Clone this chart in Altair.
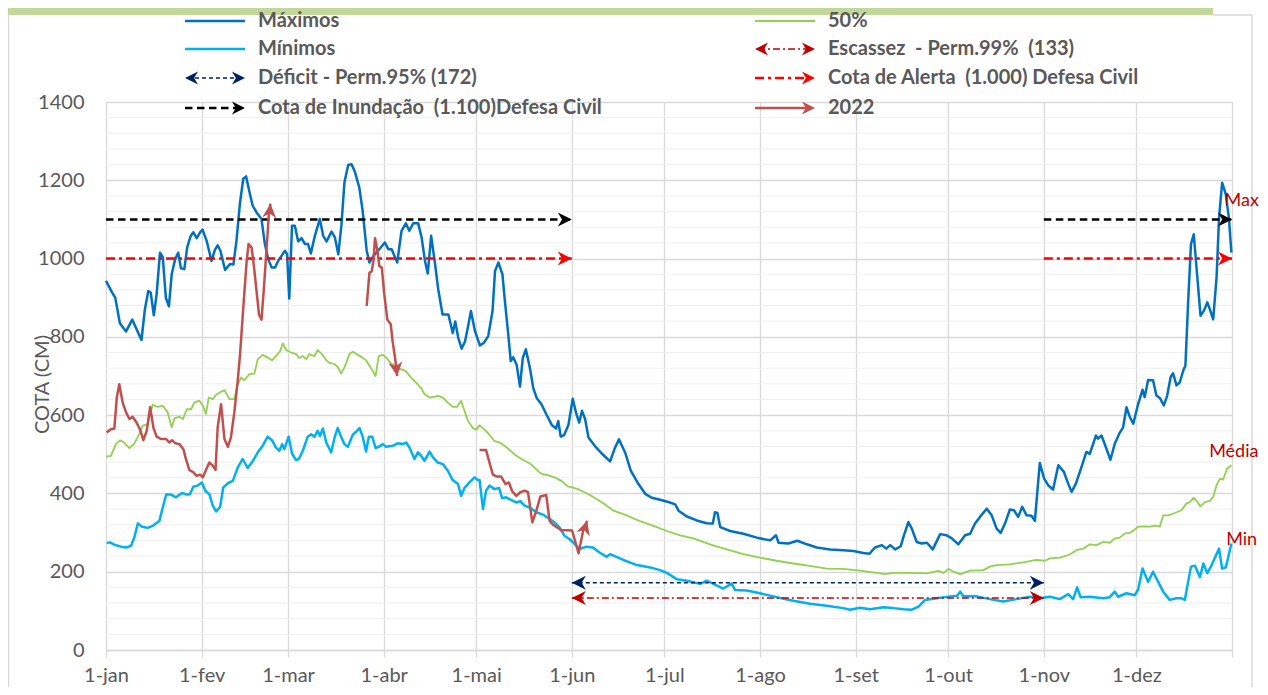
import math
import altair as alt
import pandas as pd

# ---------------- data ----------------
month_ticks = [0, 31, 59, 90, 120, 151, 181, 212, 243, 273, 304, 334, 365]
month_labels = ["1-jan", "1-fev", "1-mar", "1-abr", "1-mai", "1-jun", "1-jul",
                "1-ago", "1-set", "1-out", "1-nov", "1-dez", ""]
y_ticks = [0, 200, 400, 600, 800, 1000, 1200, 1400]

# (day of year, cota cm)
maximos = [
    (0, 943), (2, 913), (3, 900), (4.5, 835), (6.5, 814), (8.5, 844), (11.5, 792), (12.6, 870),
    (13.7, 917), (14.5, 913), (15.5, 855), (16.4, 908), (17.5, 1015), (18.4, 1004), (19.4, 900),
    (20.4, 878), (21.3, 960), (22.4, 998), (23.4, 1015), (24.3, 975), (25.4, 973), (26.3, 1028),
    (27.4, 1057), (28.3, 1067), (29.4, 1052), (30.5, 1067), (31.3, 1074), (32.6, 1046), (34.2, 994),
    (35.3, 1022), (36.2, 1034), (37.1, 1020), (38.6, 971), (40.2, 986), (41.3, 985), (42.3, 1046),
    (43.4, 1140), (44.5, 1204), (45.4, 1210), (46.4, 1174), (47.5, 1136), (48.8, 1118), (50.4, 1101),
    (51.5, 1037), (52.6, 998), (53.7, 977), (54.8, 977), (55.8, 994), (56.9, 1007), (58, 1020),
    (58.7, 1011), (59.4, 898), (60.3, 1084), (61.2, 1084), (62.3, 1044), (63.4, 1052), (64.5, 1037),
    (65.5, 1037), (66.4, 1013), (67.7, 1058), (69.3, 1101), (70.4, 1058), (71.5, 1044), (73.1, 1069),
    (74.2, 1054), (75.3, 1011), (76.3, 1084), (77.3, 1195), (78.5, 1239), (79.6, 1241), (80.7, 1221),
    (82.1, 1182), (83.2, 1122), (84.5, 1020), (85.4, 990), (86.7, 1007), (88.6, 1024), (90.4, 1041),
    (91.5, 1024), (92.6, 1024), (93.7, 1003), (94.4, 990), (95.8, 1071), (97.2, 1090), (98.3, 1071),
    (99.6, 1090), (101.2, 1090), (102.3, 1054), (103.4, 994), (104.3, 962), (105.4, 1058),
    (106.6, 990), (107.7, 921), (109.1, 857), (111, 857), (112.4, 810), (113.2, 839), (114.2, 797),
    (115.3, 770), (116.4, 789), (117.5, 832), (118.3, 866), (119.6, 815), (121.2, 778), (122.5, 785),
    (123.9, 802), (125.3, 866), (126.1, 968), (127.2, 990), (128.5, 960), (129.3, 892), (130.4, 806),
    (131.2, 738), (132, 748), (133.1, 729), (134.2, 673), (135.1, 746), (136.1, 768), (137.4, 721),
    (138.5, 669), (139.6, 644), (141.2, 627), (142.8, 601), (144.5, 575), (145.9, 566), (146.6, 585),
    (147.4, 545), (148.5, 549), (149.9, 575), (151.3, 642), (152.4, 605), (153.4, 581), (154.3, 611),
    (155.3, 590), (156.4, 543), (158.5, 521), (160.7, 502), (163.4, 482), (165, 517), (166.3, 538),
    (168.3, 504), (170.1, 458), (172.6, 424), (174.8, 399), (176.9, 389), (179.6, 384), (182.3, 378),
    (184.5, 372), (185.6, 356), (188.3, 341), (191.5, 331), (194.7, 324), (196.7, 323), (197.4, 352),
    (198.2, 350), (199.1, 314), (202.3, 304), (206.6, 297), (211, 287), (215.3, 280), (217.2, 293),
    (218, 274), (221.2, 272), (224.1, 279), (227.2, 270), (230.4, 262), (234.7, 257), (239, 255),
    (242.3, 253), (245.5, 248), (247.5, 246), (249.3, 262), (251.5, 268), (252.9, 259), (254.2, 268),
    (255.8, 257), (257.6, 265), (258.5, 289), (260.1, 327), (261.2, 310), (262.8, 276), (264.4, 272),
    (266.1, 274), (268, 257), (270.4, 296), (272.5, 293), (274.2, 285), (276.3, 270), (278.5, 293),
    (280.1, 297), (281.7, 323), (283.3, 340), (285.5, 361), (287.1, 344), (288.7, 310), (290, 299),
    (291.4, 323), (293, 359), (294.3, 357), (295.7, 340), (297, 366), (298.4, 344), (300, 343),
    (301.1, 330), (302.7, 478), (304.1, 438), (305.4, 421), (307, 410), (308.7, 472), (310.5, 455),
    (311.9, 425), (313, 404), (314.4, 425), (316.2, 467), (317.8, 506), (318.9, 501), (320.9, 548),
    (321.6, 540), (322.7, 548), (324.3, 514), (325.6, 486), (327, 527), (328.4, 552), (329.7, 569),
    (330.8, 620), (331.9, 595), (333, 578), (334.6, 629), (336, 665), (336.7, 646), (337.8, 690),
    (339.4, 689), (340.5, 650), (341.6, 644), (342.9, 625), (344, 650), (345.1, 697), (345.9, 707),
    (347, 676), (348.1, 684), (349.2, 714), (349.9, 727), (350.8, 892), (351.7, 1037), (352.6, 1062),
    (353.5, 977), (354.8, 854), (355.9, 867), (357, 888), (357.8, 871), (358.9, 845), (360, 952),
    (360.8, 1104), (361.8, 1194), (363, 1164), (364, 1104), (364.8, 1015),
]

mediana_50 = [
    (0, 494), (1.6, 496), (3.2, 526), (4.6, 536), (5.9, 530), (7.6, 516), (9.2, 528), (10.8, 552),
    (11.9, 573), (13.5, 577), (15.1, 626), (16.8, 621), (18.4, 624), (20, 607), (21.3, 569),
    (22.2, 592), (23.8, 596), (24.9, 590), (26.2, 615), (27.6, 615), (28.6, 632), (30.3, 637),
    (31.4, 624), (32.4, 603), (33.3, 645), (34.6, 641), (35.7, 652), (37.3, 660), (38.4, 664),
    (40, 641), (41.6, 641), (42.7, 679), (43.8, 696), (44.9, 689), (46.5, 705), (48.1, 706),
    (49.2, 743), (50.8, 754), (52.4, 747), (53.8, 740), (55.1, 751), (56.4, 763), (57.3, 783),
    (58.4, 766), (60, 760), (61.6, 756), (62.7, 746), (63.8, 751), (64.9, 743), (65.9, 756),
    (67.6, 751), (68.6, 766), (70, 756), (71.4, 740), (72.4, 734), (74.1, 730), (75.1, 723),
    (76.2, 706), (77.3, 722), (78.9, 756), (80, 762), (81.6, 754), (83.2, 747), (84.3, 740),
    (85.4, 726), (86.3, 715), (87.4, 700), (88.4, 751), (89.7, 754), (91, 746), (92.4, 732),
    (94.1, 723), (95.7, 717), (97.1, 713), (98.9, 696), (100.5, 683), (102.2, 669), (103.2, 654),
    (104.9, 645), (106.5, 647), (107.6, 649), (109.2, 645), (110.8, 632), (112.4, 621), (113.7, 621),
    (115.1, 637), (116.2, 611), (117.3, 586), (118.9, 567), (120, 563), (121.1, 574), (122.7, 563),
    (124.3, 550), (125.9, 534), (127.6, 530), (129.2, 522), (130.8, 511), (133, 496), (135.1, 486),
    (137.3, 477), (138.9, 466), (140.5, 454), (141.6, 449), (143.2, 447), (145.4, 441), (147.6, 432),
    (149.7, 418), (151.4, 415), (153, 411), (155.1, 403), (157.3, 394), (161.2, 375), (164.5, 356),
    (168.8, 344), (173.1, 329), (177.5, 317), (181.8, 304), (186.1, 293), (190.4, 285), (195.8, 270),
    (201.2, 257), (206.6, 245), (212, 236), (217.4, 228), (222.8, 221), (228.2, 215), (233.6, 208),
    (239, 207), (244.4, 203), (249.8, 197), (252.5, 194), (255.2, 197), (260.7, 197), (266.1, 196),
    (269.8, 202), (271.5, 197), (273.1, 207), (274.7, 200), (276.9, 194), (280.1, 203), (284.4, 204),
    (286.5, 213), (288.7, 217), (293, 219), (297.3, 224), (301.6, 230), (304.3, 228), (306, 234),
    (309.2, 236), (312.4, 244), (314.6, 255), (316.8, 259), (318.9, 270), (321.1, 268), (323.2, 276),
    (325.4, 274), (327, 285), (328.6, 287), (330.3, 298), (331.9, 299), (334.6, 315), (336.7, 316),
    (338.4, 315), (340, 318), (341.6, 315), (342.7, 344), (344.3, 344), (346.5, 350), (348.6, 357),
    (350.2, 374), (351.3, 378), (352.6, 389), (353.5, 381), (354.8, 367), (356.2, 378), (357.8, 381),
    (358.9, 391), (360, 421), (361.1, 438), (362.1, 435), (363.4, 463), (364.8, 472),
]

minimos = [
    (0.2, 273), (1.3, 275), (2.7, 269), (4.9, 264), (6.5, 262), (8.1, 266), (9.2, 288), (10.3, 323),
    (11.7, 315), (13.5, 312), (15.1, 317), (17.3, 330), (18.4, 364), (19.5, 397), (21.1, 397),
    (22.7, 390), (24.6, 401), (26.2, 397), (27.2, 398), (28.3, 417), (29.7, 420), (31.1, 428),
    (32.2, 407), (33.5, 398), (34.6, 369), (35.7, 354), (37, 366), (38, 415), (39.5, 426), (41.1, 432),
    (42.7, 466), (44.3, 488), (45.9, 465), (47.6, 483), (49.2, 505), (50.8, 522), (52.4, 545),
    (53.8, 536), (55.1, 517), (56.2, 509), (57.1, 526), (57.8, 513), (59.2, 545), (60.3, 502),
    (61.6, 485), (62.5, 488), (63.8, 509), (65.4, 545), (66.5, 551), (67.6, 545), (68.6, 560),
    (69.4, 547), (70.3, 566), (71.4, 530), (73, 505), (74.1, 543), (75.1, 567), (76.2, 545),
    (77.3, 526), (78.4, 519), (80, 550), (81.1, 558), (82.2, 567), (83.2, 545), (84.3, 507),
    (85.2, 545), (86.3, 545), (87.4, 516), (88.4, 519), (89.7, 526), (90.8, 519), (93, 522),
    (94.6, 528), (96.2, 526), (97.3, 530), (98.4, 517), (100, 488), (101.1, 505), (102.2, 496),
    (103.2, 483), (104.9, 507), (106, 492), (107.6, 479), (109.2, 475), (110.8, 458), (112.4, 434),
    (114.1, 424), (115.1, 394), (116.2, 414), (117.8, 428), (119.5, 441), (120.5, 434), (121.1, 434),
    (122.2, 360), (123.2, 407), (124.3, 420), (125.9, 411), (127.4, 414), (128.4, 388), (129.7, 390),
    (131.4, 383), (133, 377), (134.3, 380), (135.7, 369), (137.3, 364), (139.5, 352), (141.6, 346),
    (143.8, 335), (145.4, 326), (147, 313), (148.6, 292), (150.3, 283), (151.9, 271), (153.5, 258),
    (155.7, 264), (157.8, 262), (160, 249), (162.3, 238), (163.4, 245), (167.7, 230), (172.1, 217),
    (176.4, 211), (179.6, 204), (181.8, 197), (185, 181), (188.3, 177), (192.6, 169), (194.7, 177),
    (196.9, 169), (200.1, 157), (202.8, 170), (203.9, 153), (207.7, 152), (212, 145), (217.4, 135),
    (222.8, 126), (228.2, 118), (233.6, 113), (239, 107), (241.2, 103), (244.4, 108), (247.7, 104),
    (252, 109), (255.2, 107), (258.5, 104), (261.2, 103), (263.4, 111), (265.5, 128), (269.3, 132),
    (273.6, 137), (275.8, 138), (276.9, 149), (277.9, 137), (282.3, 137), (286.5, 130), (290.8, 124),
    (295.1, 130), (299.5, 136), (302.7, 132), (306, 136), (309.2, 130), (311.9, 143), (313.5, 130),
    (314.8, 160), (315.9, 135), (318.9, 136), (323.2, 132), (325.4, 135), (327, 149), (328.1, 136),
    (330.8, 145), (333.5, 140), (334.6, 155), (336, 208), (337.8, 174), (339.4, 200), (342.7, 149),
    (344.8, 128), (347, 132), (348.6, 132), (349.7, 128), (351.7, 213), (353, 215), (354.6, 186),
    (355.7, 221), (357, 196), (358.4, 217), (360.8, 259), (361.8, 208), (363, 211), (364.8, 272),
]

ano_2022_jan_fev = [
    (0.2, 556), (1.6, 564), (2.7, 566), (3.5, 645), (4.3, 679), (5.4, 632), (6.5, 607), (7.6, 590),
    (8.6, 596), (9.9, 581), (11, 564), (12.1, 536), (13.2, 560), (14.3, 620), (15.4, 567), (16.4, 545),
    (17.8, 539), (19.5, 539), (20.5, 530), (21.4, 536), (22.5, 528), (23.8, 526), (25.1, 513),
    (25.9, 488), (27, 460), (28.3, 454), (29.4, 445), (30.5, 448), (31.4, 441), (32.4, 460),
    (33.5, 479), (34.6, 471), (35.5, 460), (36.2, 569), (37.3, 628), (38.4, 539), (39.5, 519),
    (40.5, 543), (41.6, 607), (42.7, 688), (43.5, 760), (44.5, 874), (45.6, 994), (46.2, 1037),
    (47.2, 1028), (48, 977), (48.8, 917), (49.6, 857), (50.4, 844), (51.2, 925), (52, 1020),
    (52.8, 1114), (53.3, 1140),
]
ano_2022_mar_abr = [
    (84.5, 879), (85.4, 964), (86.1, 967), (86.7, 994), (87.2, 1052), (88, 1020), (88.6, 981),
    (89.4, 977), (90.2, 909), (91.2, 844), (92.3, 832), (92.9, 789), (93.7, 746), (94.4, 700),
]
ano_2022_mai_jun = [
    (121.1, 511), (123.2, 511), (124.3, 479), (125.4, 448), (126.7, 443), (128.1, 443), (129.5, 424),
    (130.6, 428), (131.7, 405), (133, 394), (134.3, 403), (135.7, 407), (136.8, 403), (138.2, 326),
    (139.5, 356), (140.8, 392), (142.7, 396), (143.8, 330), (144.9, 320), (146.5, 312), (147.6, 306),
    (149.2, 306), (151.1, 305), (151.9, 283), (153.2, 247), (154.1, 283), (154.9, 313), (156, 330),
]

inund_level = 1100
alerta_level = 1000
deficit_level = 172
escassez_level = 133
flood_starts = [0, 304]
flood_ends = [151, 365]
drought_start = 151
drought_end = 304

end_label_texts = ["Max", "Média", "Min"]
end_label_days = [362.6, 357.6, 363.1]
end_label_vals = [1147, 506, 281]

# ---------------- layout / style ----------------
W, H = 1126, 548
PAD = {"left": 98, "top": 94, "right": 28, "bottom": 37}
FONT = "Lato"
TXT = "#595959"
GRID = "#d9d9d9"
ARROW = "M0,0 L-2,-1 L-1.4,0 L-2,1 Z"
NB = "\u00a0"

C_MAX, C_MIN, C_MED, C_22 = "#0070c0", "#00b0f0", "#92d050", "#c0504d"
C_INUND, C_ALERTA, C_DEF, C_ESC = "#000000", "#ff0000", "#002060", "#c00000"
D_INUND, D_ALERTA, D_DEF, D_ESC = [7.5, 4.5], [9, 4, 3, 4], [4, 3], [7, 3, 2, 3]

label_expr = "{}[indexof({}, datum.value)]".format(
    "[" + ",".join("'%s'" % s for s in month_labels) + "]",
    "[" + ",".join(str(t) for t in month_ticks) + "]")

x_enc = alt.X("day:Q", scale=alt.Scale(domain=[0, 365], nice=False, zero=False),
              axis=alt.Axis(values=month_ticks, labelExpr=label_expr, title=None, grid=True,
                            gridColor=GRID, gridWidth=1.3, domainColor=GRID, domainWidth=1.3,
                            tickColor=GRID, tickSize=7, tickWidth=1.3, labelFont=FONT,
                            labelFontSize=20, labelColor=TXT, labelPadding=8, labelFlush=False,
                            labelOverlap=False))
y_enc = alt.Y("value:Q", scale=alt.Scale(domain=[0, 1400], nice=False),
              axis=alt.Axis(values=y_ticks, format="d", grid=True, gridColor=GRID, gridWidth=1.3,
                            domain=False, ticks=False, labelFont=FONT, labelFontSize=20,
                            labelColor=TXT, labelPadding=22, title="COTA (CM)", titleFont=FONT,
                            titleFontSize=20, titleFontWeight="normal", titleColor=TXT,
                            titleX=-58, titleY=282, titleAngle=270, titleBaseline="alphabetic",
                            titleAlign="center"))


def pts_df(points, **extra):
    df = pd.DataFrame(points, columns=["day", "value"])
    for k, v in extra.items():
        df[k] = v
    return df


def ang(d0, v0, d1, v1):
    dx = (d1 - d0) * W / 365.0
    dy = -(v1 - v0) * H / 1400.0
    return math.degrees(math.atan2(dy, dx)) % 360


layers = []

# frame: green band + light border
one = pd.DataFrame({"k": [0]})
layers.append(alt.Chart(one).mark_rect(color="#c4d79b").encode(
    x=alt.value(-98), x2=alt.value(1107), y=alt.value(-94), y2=alt.value(-87)))
layers.append(alt.Chart(one).mark_rule(color=GRID, strokeWidth=1.5).encode(
    x=alt.value(1107), x2=alt.value(1146), y=alt.value(-87)))
layers.append(alt.Chart(one).mark_rule(color=GRID, strokeWidth=1.5).encode(
    x=alt.value(1146), y=alt.value(-87), y2=alt.value(600)))
layers.append(alt.Chart(one).mark_rule(color=GRID, strokeWidth=1.5).encode(
    x=alt.value(-97.5), y=alt.value(-87), y2=alt.value(600)))

# minor gridlines
minor_vals = [v for v in range(40, 1400, 40) if v % 200 != 0]
layers.append(alt.Chart(pd.DataFrame({"value": minor_vals})).mark_rule(
    color="#efefef", strokeWidth=1).encode(y=y_enc))

# series
layers.append(alt.Chart(pts_df(minimos)).mark_line(color=C_MIN, strokeWidth=2.5, strokeJoin="round").encode(x=x_enc, y=y_enc))
layers.append(alt.Chart(pts_df(mediana_50)).mark_line(color=C_MED, strokeWidth=1.8, strokeJoin="round").encode(x=x_enc, y=y_enc))
layers.append(alt.Chart(pts_df(maximos)).mark_line(color=C_MAX, strokeWidth=2.5, strokeJoin="round").encode(x=x_enc, y=y_enc))

# reference lines
df_inund = pd.DataFrame({"day": flood_starts, "day_end": flood_ends, "value": [inund_level] * 2})
df_alerta = pd.DataFrame({"day": flood_starts, "day_end": flood_ends, "value": [alerta_level] * 2})
df_def = pd.DataFrame({"day": [drought_start], "day_end": [drought_end], "value": [deficit_level]})
df_esc = pd.DataFrame({"day": [drought_start], "day_end": [drought_end], "value": [escassez_level]})
for d, c, w, dash in [(df_inund, C_INUND, 2.5, D_INUND), (df_alerta, C_ALERTA, 2.5, D_ALERTA),
                      (df_def, C_DEF, 1.5, D_DEF), (df_esc, C_ESC, 1.5, D_ESC)]:
    layers.append(alt.Chart(d).mark_rule(color=c, strokeWidth=w, strokeDash=dash).encode(
        x=x_enc, x2=alt.X2("day_end:Q"), y=y_enc))

# 2022 line (three separate stretches)
segs_2022 = [ano_2022_jan_fev, ano_2022_mar_abr, ano_2022_mai_jun]
df_22 = pd.concat([pts_df(s, seg=i) for i, s in enumerate(segs_2022)], ignore_index=True)
layers.append(alt.Chart(df_22).mark_line(color=C_22, strokeWidth=2.5, strokeJoin="round").encode(
    x=x_enc, y=y_enc, detail="seg:N"))

# arrow heads
tips = []
for s in segs_2022:
    (d0, v0), (d1, v1) = s[-3], s[-1]
    tips.append({"day": d1, "value": v1, "ang": ang(d0, v0, d1, v1), "color": C_22})
for en in flood_ends:
    tips.append({"day": en, "value": inund_level, "ang": 0, "color": C_INUND})
    tips.append({"day": en, "value": alerta_level, "ang": 0, "color": C_ALERTA})
for lvl, c in [(deficit_level, C_DEF), (escassez_level, C_ESC)]:
    tips.append({"day": drought_start, "value": lvl, "ang": 180, "color": c})
    tips.append({"day": drought_end, "value": lvl, "ang": 0, "color": c})
layers.append(alt.Chart(pd.DataFrame(tips)).mark_point(
    shape=ARROW, filled=True, size=196, opacity=1, strokeWidth=0).encode(
    x=x_enc, y=y_enc, angle=alt.Angle("ang:Q", scale=None), color=alt.Color("color:N", scale=None)))

# end labels
df_lbl = pd.DataFrame({"text": end_label_texts, "day": end_label_days, "value": end_label_vals})
layers.append(alt.Chart(df_lbl).mark_text(align="left", baseline="middle", color="#c00000",
                                          fontSize=18, font=FONT).encode(x=x_enc, y=y_enc, text="text:N"))

# legend (manual, two columns)
legend_items = [
    (0, 0, "Máximos", C_MAX, 2.5, None, False, False),
    (0, 1, "Mínimos", C_MIN, 2.5, None, False, False),
    (0, 2, "Déficit - Perm.95% (172)", C_DEF, 1.5, D_DEF, True, True),
    (0, 3, "Cota de Inundação" + NB + NB + "(1.100)Defesa Civil", C_INUND, 2.5, D_INUND, False, True),
    (1, 0, "50%", C_MED, 1.8, None, False, False),
    (1, 1, "Escassez" + NB + NB + "- Perm.99%" + NB + NB + "(133)", C_ESC, 1.5, D_ESC, True, True),
    (1, 2, "Cota de Alerta" + NB + NB + "(1.000) Defesa Civil", C_ALERTA, 2.5, D_ALERTA, False, True),
    (1, 3, "2022", C_22, 2.5, None, False, True),
]
col_x = [79, 649]
row_y = [-81, -53, -24, 6]
for col, row, text, c, w, dash, la, ra in legend_items:
    x0 = col_x[col]
    x1 = x0 + 60
    yy = row_y[row]
    rule_kw = dict(color=c, strokeWidth=w)
    if dash:
        rule_kw["strokeDash"] = dash
    layers.append(alt.Chart(one).mark_rule(**rule_kw).encode(
        x=alt.value(x0 + (3 if la else 0)), x2=alt.value(x1 - (3 if ra else 0)), y=alt.value(yy)))
    if la:
        layers.append(alt.Chart(one).mark_point(shape=ARROW, filled=True, size=170, opacity=1,
                                                strokeWidth=0, color=c, angle=180).encode(
            x=alt.value(x0), y=alt.value(yy)))
    if ra:
        layers.append(alt.Chart(one).mark_point(shape=ARROW, filled=True, size=170, opacity=1,
                                                strokeWidth=0, color=c, angle=0).encode(
            x=alt.value(x1), y=alt.value(yy)))
    layers.append(alt.Chart(one).mark_text(align="left", baseline="middle", font=FONT, fontSize=20,
                                           fontWeight="bold", color=TXT, text=text).encode(
        x=alt.value(x0 + 73), y=alt.value(yy)))

chart = alt.layer(*layers).properties(
    width=W, height=H, padding=PAD, autosize=alt.AutoSizeParams(type="none"),
    background="white",
).configure_view(strokeWidth=0)

chart.save("out.html", embed_options={"renderer": "svg", "actions": False})
